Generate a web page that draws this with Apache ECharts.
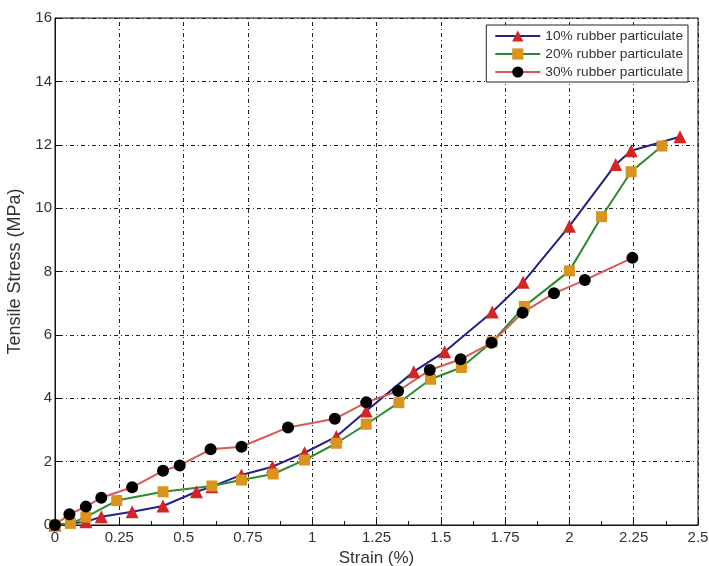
<!DOCTYPE html>
<html>
<head>
<meta charset="utf-8">
<script src="https://cdn.jsdelivr.net/npm/echarts@6/dist/echarts.min.js"></script>
<style>html,body{margin:0;padding:0;background:#fff}#c{width:709px;height:566px}</style>
</head>
<body>
<div id="c"></div>
<script>
var strain10 = [0, 0.12, 0.18, 0.30, 0.42, 0.55, 0.61, 0.725, 0.846, 0.97, 1.094, 1.21, 1.395, 1.515, 1.70, 1.82, 2.0, 2.18, 2.24, 2.43];
var stress10 = [0, 0.1, 0.26, 0.42, 0.6, 1.05, 1.21, 1.58, 1.84, 2.28, 2.79, 3.6, 4.84, 5.47, 6.72, 7.66, 9.43, 11.38, 11.81, 12.25];
var strain20 = [0, 0.06, 0.12, 0.24, 0.42, 0.61, 0.725, 0.848, 0.97, 1.094, 1.21, 1.337, 1.46, 1.58, 1.70, 1.825, 2.0, 2.125, 2.24, 2.36];
var stress20 = [0, 0.05, 0.25, 0.77, 1.05, 1.23, 1.42, 1.61, 2.05, 2.58, 3.18, 3.86, 4.6, 4.97, 5.78, 6.9, 8.02, 9.73, 11.15, 11.96];
var strain30 = [0, 0.056, 0.12, 0.18, 0.30, 0.42, 0.485, 0.605, 0.725, 0.906, 1.088, 1.21, 1.334, 1.457, 1.577, 1.697, 1.818, 1.94, 2.06, 2.245];
var stress30 = [0, 0.34, 0.58, 0.86, 1.19, 1.71, 1.88, 2.39, 2.47, 3.08, 3.35, 3.87, 4.23, 4.89, 5.23, 5.75, 6.70, 7.31, 7.73, 8.43];
var seriesNames = ['10% rubber particulate', '20% rubber particulate', '30% rubber particulate'];

function pairs(xs, ys) { return xs.map(function (x, i) { return [x, ys[i]]; }); }

var font = 'Liberation Sans, Arial, sans-serif';
var gridStyle = { color: '#222', width: 1, type: [1, 3, 4, 3] };

var chart = echarts.init(document.getElementById('c'), null, { renderer: 'canvas' });
chart.setOption({
  animation: false,
  backgroundColor: '#fff',
  grid: { left: 55, right: 11, top: 18, bottom: 41, outerBoundsMode: 'none', containLabel: false, show: true, borderColor: '#111', borderWidth: 1, backgroundColor: 'transparent' },
  legend: {
    right: 21, top: 25, orient: 'vertical', itemGap: 4, itemWidth: 45, itemHeight: 14,
    backgroundColor: '#fff', borderColor: '#222', borderWidth: 1, padding: [4, 5, 3, 8],
    textStyle: { fontFamily: font, fontSize: 13.7, color: '#333' },
    data: seriesNames
  },
  xAxis: {
    type: 'value', min: 0, max: 2.5, interval: 0.25,
    name: 'Strain (%)', nameLocation: 'middle', nameGap: 24,
    nameTextStyle: { fontFamily: font, fontSize: 17, color: '#333' },
    axisLine: { lineStyle: { color: '#111' } },
    axisTick: { show: true, inside: true, length: 6, lineStyle: { color: '#111' } },
    minorTick: { show: true, splitNumber: 2, length: 4, lineStyle: { color: '#111' } },
    axisLabel: { fontFamily: font, fontSize: 15, color: '#333', margin: 5 },
    splitLine: { show: true, lineStyle: gridStyle }
  },
  yAxis: {
    type: 'value', min: 0, max: 16, interval: 2,
    name: 'Tensile Stress (MPa)', nameLocation: 'middle', nameGap: 27,
    nameTextStyle: { fontFamily: font, fontSize: 18, color: '#333' },
    axisLine: { show: true, lineStyle: { color: '#111' } },
    axisTick: { show: true, inside: true, length: 6, lineStyle: { color: '#111' } },
    axisLabel: { fontFamily: font, fontSize: 15, color: '#333', margin: 3 },
    splitLine: { show: true, lineStyle: gridStyle }
  },
  series: [
    {
      name: seriesNames[0], type: 'line', data: pairs(strain10, stress10),
      symbol: 'triangle', symbolSize: 13,
      lineStyle: { color: '#22228a', width: 2 },
      itemStyle: { color: '#d42424', borderWidth: 0 }
    },
    {
      name: seriesNames[1], type: 'line', data: pairs(strain20, stress20),
      symbol: 'rect', symbolSize: 11,
      lineStyle: { color: '#2f8a2f', width: 2 },
      itemStyle: { color: '#d8941c', borderWidth: 0 }
    },
    {
      name: seriesNames[2], type: 'line', data: pairs(strain30, stress30),
      symbol: 'circle', symbolSize: 12,
      lineStyle: { color: '#d85a55', width: 2 },
      itemStyle: { color: '#000', borderWidth: 0 }
    }
  ]
});
</script>
</body>
</html>
